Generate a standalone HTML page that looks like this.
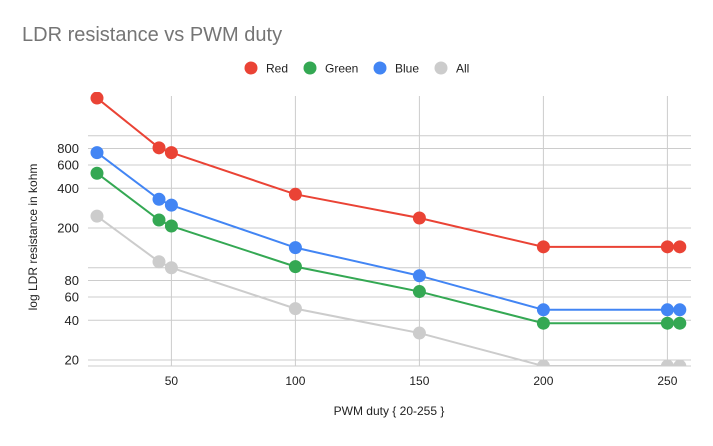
<!DOCTYPE html>
<html><head><meta charset="utf-8">
<style>
body{margin:0;background:#fff;font-family:"Liberation Sans",Arial,sans-serif;}
svg text{font-family:"Liberation Sans",Arial,sans-serif;}
</style></head>
<body>
<svg id="chart" width="713" height="441" xmlns="http://www.w3.org/2000/svg">
<rect width="713" height="441" fill="#fff"/>
<text x="22" y="41" font-size="20" fill="#757575">LDR resistance vs PWM duty</text>
<g id="legend"></g>
<defs><clipPath id="plotclip"><rect x="86" y="92" width="606" height="274"/></clipPath></defs>
<g id="grid"></g>
<g id="series" clip-path="url(#plotclip)"></g>
<g id="ticks"></g>
<text transform="translate(37,237) rotate(-90)" text-anchor="middle" font-size="12" fill="#222">log LDR resistance in kohm</text>
<text x="389" y="415" text-anchor="middle" font-size="12" fill="#222">PWM duty { 20-255 }</text>
</svg>
<script>
const xValues = [20, 45, 50, 100, 150, 200, 250, 255];
const redValues = [1930, 810, 745, 360, 238, 144, 144, 144];
const greenValues = [520, 230, 207, 102, 66, 38, 38, 38];
const blueValues = [745, 330, 298, 142, 87, 48, 48, 48];
const allValues = [246, 111, 100, 49, 32, 18, 18, 18];
const seriesNames = ["Red", "Green", "Blue", "All"];
const xTicks = [50, 100, 150, 200, 250];
const yGrid = [20, 40, 60, 80, 100, 200, 400, 600, 800, 1000];
const yTickLabels = [20, 40, 60, 80, 200, 400, 600, 800];

const colors = ["#ea4335", "#34a853", "#4285f4", "#cccccc"];
const NS = "http://www.w3.org/2000/svg";
const xs = v => 97 + (v - 20) * 2.48;
const ys = v => 360 - 132 * Math.log10(v / 20);
function mk(tag, attrs, parent){const e=document.createElementNS(NS,tag);for(const k in attrs)e.setAttribute(k,attrs[k]);parent.appendChild(e);return e;}

const grid=document.getElementById('grid'), ticks=document.getElementById('ticks');
yGrid.forEach(v=>{
  const l=mk('line',{x1:88,x2:691,y1:ys(v),y2:ys(v),stroke:'#cccccc','stroke-width':1},grid);
  
  
});
yTickLabels.forEach(v=>{
  const t=mk('text',{x:79,y:ys(v)+4.5,'text-anchor':'end','font-size':13,fill:'#222'},ticks);
  t.textContent=v;
  
  
});
xTicks.forEach(v=>{
  const l=mk('line',{x1:xs(v),x2:xs(v),y1:96,y2:366,stroke:'#cccccc','stroke-width':1},grid);
  
  
  const t=mk('text',{x:xs(v),y:385,'text-anchor':'middle','font-size':12,fill:'#222'},ticks);
  t.textContent=v;
  
  
});
mk('line',{x1:88,x2:691,y1:366,y2:366,stroke:'#cccccc','stroke-width':1},grid);

const seriesData=[redValues,greenValues,blueValues,allValues];
const sg=document.getElementById('series');
[3,1,2,0].forEach(i=>{
  const g=mk('g',{},sg);
  
  
  const pts=xValues.map((x,j)=>xs(x)+','+ys(seriesData[i][j])).join(' ');
  const pl=mk('polyline',{points:pts,fill:'none',stroke:colors[i],'stroke-width':2},g);
  
  
  xValues.forEach((x,j)=>{
    const c=mk('circle',{cx:xs(x),cy:ys(seriesData[i][j]),r:6.5,fill:colors[i]},g);
    
    
  });
});

const lg=document.getElementById('legend');
const lx=[251,310,380,441];
seriesNames.forEach((n,i)=>{
  const g=mk('g',{},lg);
  
  
  mk('circle',{cx:lx[i],cy:68,r:6.5,fill:colors[i]},g);
  const t=mk('text',{x:lx[i]+15,y:72.5,'font-size':12,fill:'#222'},g);
  t.textContent=n;
});
</script>
</body></html>
